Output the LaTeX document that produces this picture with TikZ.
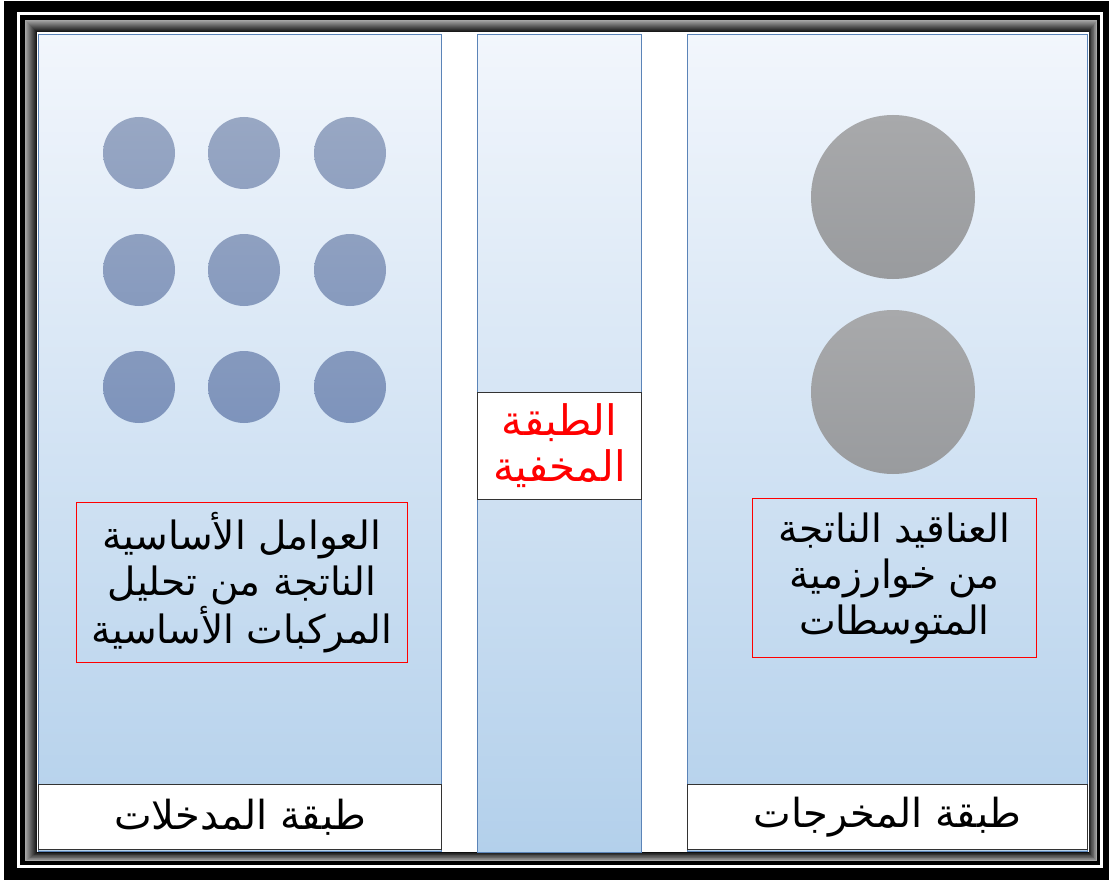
\documentclass[tikz,border=0pt]{standalone}
\usepackage{fontspec}
\newfontfamily\arabicfont[Script=Arabic]{DejaVu Sans}
\TeXXeTstate=1
\definecolor{panelTop}{HTML}{F2F6FC}
\definecolor{panelBot}{HTML}{B3D0EB}
\definecolor{panelEdge}{HTML}{5B84B8}
\definecolor{circA}{HTML}{98A7C3}
\definecolor{circB}{HTML}{7990BA}
\definecolor{grayA}{HTML}{A8A9AB}
\definecolor{grayB}{HTML}{999B9E}
\tikzset{
  panel/.style={draw=panelEdge, line width=1pt, top color=panelTop, bottom color=panelBot, anchor=north west, inner sep=0pt},
  labelbox/.style={draw=black!80, line width=1pt, fill=white, anchor=north west, inner sep=0pt, font=\arabicfont\fontsize{40}{46}\selectfont},
  redbox/.style={draw=red, line width=1pt, anchor=north west, inner sep=0pt, align=center, font=\arabicfont\fontsize{39}{46}\selectfont},
  lcirc/.style={circle, minimum size=72pt, inner sep=0pt},
  rcirc/.style={circle, minimum size=164pt, inner sep=0pt, top color=grayA, bottom color=grayB}
}
\begin{document}
\begin{tikzpicture}[x=1pt,y=-1pt]
\useasboundingbox (0,0) rectangle (1109,880);
% frame
\fill[black] (4,1) rectangle (1109,880);
\fill[white] (17,12) rectangle (1103,868);
\fill[black] (20,15) rectangle (1100,865);
\foreach \i in {0,...,12}{
  \pgfmathsetmacro{\g}{35+5*\i}
  \fill[black!\g!white] (25+\i,20+\i) rectangle (1097-0.7*\i,861-0.7*\i);
}
\fill[white] (37,32) rectangle (1089,852);
% panels
\node[panel, minimum width=403pt, minimum height=817pt] (inpanel) at (38,34) {};
\node[panel, minimum width=164pt, minimum height=818pt] (hidpanel) at (477,34) {};
\node[panel, minimum width=400pt, minimum height=817pt] (outpanel) at (687,34) {};
% bottom labels
\node[labelbox, minimum width=403pt, minimum height=65pt] (inlabel) at (38,784) {\beginR طبقة المدخلات\endR};
\node[labelbox, minimum width=400pt, minimum height=65pt] (outlabel) at (687,784) {\beginR طبقة المخرجات\endR};
% hidden layer box
\node[labelbox, minimum width=164pt, minimum height=107pt, align=center, text=red, font=\arabicfont\fontsize{42}{46}\selectfont] (hidlabel) at (477,392) {\beginR الطبقة\endR\\\beginR المخفية\endR};
% red text boxes
\node[redbox, minimum width=331pt, minimum height=160pt] (intext) at (76,502) {\beginR العوامل الأساسية\endR\\\beginR الناتجة من تحليل\endR\\\beginR المركبات الأساسية\endR};
\node[redbox, minimum width=284pt, minimum height=159pt] (outtext) at (752,498) {\beginR العناقيد الناتجة\endR\\\beginR من خوارزمية\endR\\\beginR المتوسطات\endR};
% input circles
\foreach \r/\y/\t/\b in {1/153/100/75, 2/270/70/45, 3/387/40/15}{
  \foreach \c/\x in {1/139, 2/244, 3/350}{
    \node[lcirc, top color=circA!\t!circB, bottom color=circA!\b!circB] (c\r\c) at (\x,\y) {};
  }
}
% output circles
\node[rcirc] (o1) at (893,197) {};
\node[rcirc] (o2) at (893,392) {};
\end{tikzpicture}
\end{document}
